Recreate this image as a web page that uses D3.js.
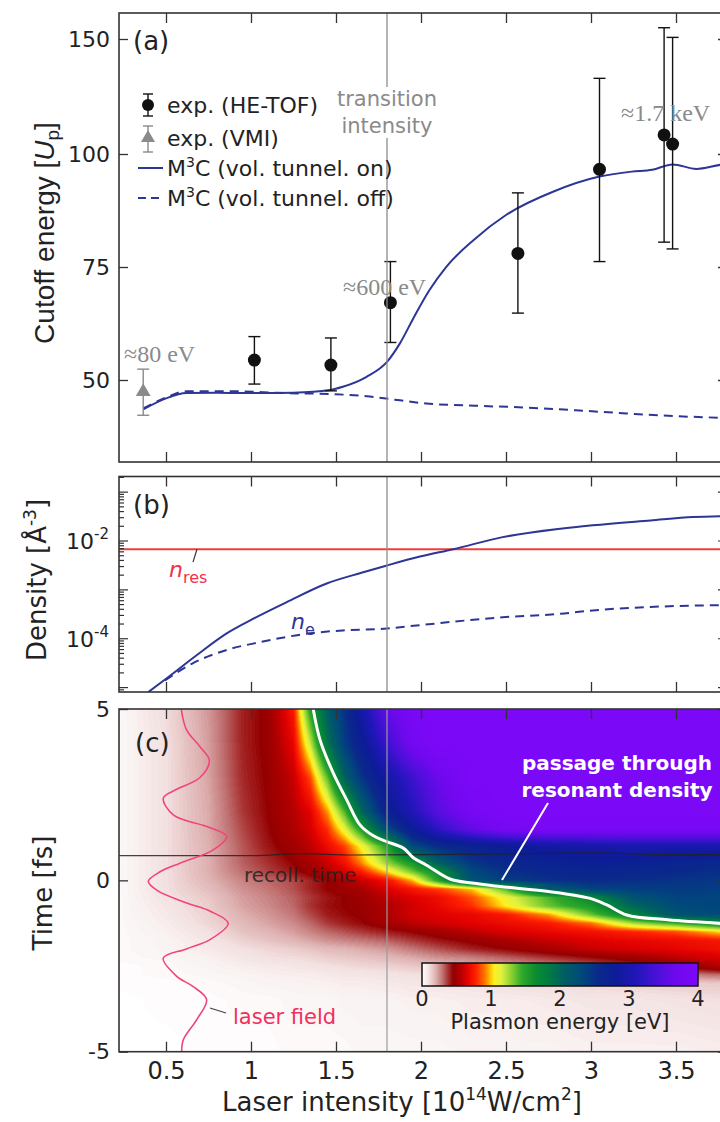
<!DOCTYPE html>
<html><head><meta charset="utf-8">
<script src="https://cdn.jsdelivr.net/npm/d3@7"></script>
<style>
body{margin:0;background:#fff;}
svg{display:block;font-family:"DejaVu Sans",sans-serif;}
</style>
</head><body>
<svg id="chart" width="720" height="1122"></svg>
<script>
// ---------------- DATA ----------------
const intensityTicks = [0.5, 1, 1.5, 2, 2.5, 3, 3.5];
const intensityTickLabels = ["0.5", "1", "1.5", "2", "2.5", "3", "3.5"];
const transitionIntensity = 1.8;

// panel (a): cutoff energy [Up]
const cutoffTicks = [50, 75, 100, 150];
const heI   = [1.02, 1.47, 1.82, 2.57, 3.05, 3.43, 3.48];
const heVal = [54.4, 53.3, 67.1, 78.0, 96.6, 108.3, 104.3];
const heLo  = [49.1, 47.6, 58.3, 64.8, 76.2, 80.5, 79.0];
const heHi  = [59.6, 59.3, 76.2, 91.4, 132.9, 154.9, 150.7];
const vmiI = [0.366], vmiVal = [47.4], vmiLo = [42.2], vmiHi = [52.4];
const m3cOnI   = [0.366, 0.504, 0.62, 0.8, 1.01, 1.25, 1.465, 1.54, 1.68, 1.80, 1.876, 1.96, 2.05, 2.15, 2.31, 2.50, 2.78, 3.05, 3.24, 3.36, 3.48, 3.62, 3.76, 3.81];
const m3cOnVal = [43.5, 46.0, 47.1, 47.2, 47.1, 47.2, 47.8, 48.5, 50.7, 54.0, 58.1, 64.0, 69.9, 75.1, 81.0, 86.5, 91.7, 95.0, 96.1, 96.5, 97.7, 96.7, 97.6, 97.8];
const m3cOffI   = [0.366, 0.504, 0.62, 0.89, 1.19, 1.465, 1.68, 1.876, 2.03, 2.32, 2.62, 2.91, 3.21, 3.50, 3.81];
const m3cOffVal = [43.7, 46.2, 47.5, 47.5, 47.1, 46.9, 46.4, 45.5, 44.8, 44.3, 43.9, 43.3, 42.6, 42.0, 41.6];

// panel (b): densities [A^-3]
const nRes = 6.8e-3;
const neOnI   = [0.396, 0.504, 0.68, 0.857, 1.014, 1.21, 1.445, 1.66, 1.80, 1.994, 2.19, 2.48, 2.82, 3.01, 3.35, 3.60, 3.81];
const neOnVal = [8.1e-6, 1.55e-5, 4.6e-5, 1.29e-4, 2.57e-4, 5.6e-4, 1.35e-3, 2.29e-3, 3.16e-3, 4.8e-3, 6.8e-3, 1.2e-2, 1.78e-2, 2.09e-2, 2.63e-2, 3.09e-2, 3.24e-2];
const neOffI   = [0.494, 0.659, 0.857, 1.053, 1.347, 1.54, 1.80, 1.994, 2.48, 2.82, 3.01, 3.35, 3.81];
const neOffVal = [1.41e-5, 3.16e-5, 5.9e-5, 8.5e-5, 1.29e-4, 1.48e-4, 1.62e-4, 1.9e-4, 2.75e-4, 3.24e-4, 3.8e-4, 4.47e-4, 4.9e-4];

// panel (c): plasmon energy map [eV]
const timeTicks = [-5, 0, 5];
const heatI = [0.22, 0.5, 0.75, 0.95, 1.1, 1.25, 1.35, 1.45, 1.55, 1.65, 1.8, 1.95, 2.1, 2.3, 2.5, 2.75, 3.0, 3.25, 3.5, 3.8];
const heatT = [5, 4, 3, 2, 1.5, 1, 0.5, 0.25, 0, -0.25, -0.5, -0.75, -1, -1.25, -1.5, -1.75, -2, -2.25, -2.5, -2.75, -3, -3.5, -5];
const heatE = [
 [0.02,0.11,0.24,0.40,0.47,0.75,1.52,2.1,2.5,2.95,3.6,3.95,4,4,4,4,4,4,4,4],
 [0.02,0.10,0.23,0.40,0.47,0.68,1.2,1.9,2.4,2.75,3.3,3.8,4,4,4,4,4,4,4,4],
 [0.02,0.10,0.22,0.39,0.46,0.60,0.85,1.37,2.05,2.47,2.93,3.3,3.67,4,4,4,4,4,4,4],
 [0.02,0.10,0.21,0.37,0.45,0.56,0.66,0.94,1.39,2.0,2.7,3.1,3.5,3.85,4,4,4,4,4,4],
 [0.02,0.10,0.21,0.35,0.44,0.54,0.63,0.80,1.12,1.53,2.3,2.8,3.2,3.6,3.85,3.9,3.9,3.9,3.9,3.9],
 [0.02,0.10,0.20,0.33,0.42,0.50,0.58,0.70,0.83,1.08,1.5,2.3,2.55,2.7,2.8,2.9,2.95,3.0,3.0,3.0],
 [0.02,0.10,0.20,0.32,0.38,0.45,0.52,0.60,0.72,0.92,1.27,1.56,2.05,2.45,2.6,2.7,2.75,2.72,2.65,2.6],
 [0.02,0.10,0.20,0.30,0.36,0.42,0.48,0.55,0.63,0.76,1.02,1.33,1.65,2.3,2.5,2.6,2.65,2.62,2.58,2.5],
 [0.02,0.10,0.19,0.27,0.31,0.35,0.40,0.45,0.52,0.60,0.72,0.98,1.5,2.2,2.4,2.5,2.55,2.52,2.48,2.45],
 [0.02,0.10,0.17,0.25,0.29,0.34,0.40,0.45,0.48,0.53,0.64,0.74,0.83,1.0,1.4,2.1,2.35,2.4,2.42,2.4],
 [0.02,0.09,0.15,0.23,0.27,0.32,0.37,0.42,0.45,0.48,0.58,0.65,0.70,0.85,1.1,1.4,1.7,2.2,2.35,2.35],
 [0.02,0.08,0.14,0.22,0.26,0.31,0.38,0.43,0.45,0.47,0.54,0.62,0.68,0.80,1.05,1.35,1.55,2.0,2.3,2.35],
 [0.02,0.07,0.13,0.20,0.24,0.29,0.35,0.41,0.44,0.46,0.54,0.62,0.65,0.68,0.75,0.95,1.35,1.75,2.2,2.3],
 [0.02,0.06,0.12,0.18,0.22,0.26,0.31,0.37,0.41,0.44,0.51,0.58,0.62,0.66,0.70,0.75,0.9,1.25,1.45,1.7],
 [0.02,0.05,0.10,0.16,0.19,0.23,0.27,0.31,0.34,0.37,0.41,0.45,0.50,0.58,0.64,0.68,0.72,0.78,0.85,1.05],
 [0.02,0.04,0.08,0.13,0.16,0.19,0.22,0.25,0.27,0.29,0.32,0.37,0.42,0.47,0.53,0.60,0.65,0.68,0.70,0.75],
 [0.02,0.04,0.07,0.10,0.12,0.14,0.16,0.18,0.19,0.21,0.24,0.29,0.34,0.40,0.45,0.52,0.60,0.64,0.67,0.72],
 [0.02,0.03,0.05,0.08,0.10,0.11,0.12,0.14,0.15,0.16,0.18,0.21,0.25,0.28,0.32,0.38,0.44,0.50,0.58,0.65],
 [0.01,0.02,0.04,0.06,0.07,0.08,0.09,0.10,0.11,0.12,0.13,0.15,0.17,0.20,0.23,0.27,0.32,0.38,0.45,0.58],
 [0.01,0.02,0.03,0.04,0.05,0.06,0.06,0.07,0.08,0.08,0.09,0.10,0.11,0.13,0.15,0.17,0.19,0.22,0.26,0.32],
 [0.01,0.01,0.02,0.03,0.04,0.04,0.05,0.05,0.06,0.06,0.07,0.08,0.08,0.09,0.10,0.11,0.12,0.13,0.14,0.15],
 [0.00,0.01,0.01,0.02,0.02,0.03,0.03,0.03,0.04,0.04,0.04,0.05,0.05,0.06,0.06,0.07,0.08,0.08,0.09,0.10],
 [0.00,0.00,0.01,0.01,0.01,0.02,0.02,0.02,0.02,0.03,0.03,0.03,0.03,0.04,0.04,0.04,0.05,0.05,0.05,0.06]
];
const cmapStops  = [0, 0.1, 0.2, 0.3, 0.38, 0.45, 0.55, 0.65, 0.78, 0.9, 0.98, 1.05, 1.15, 1.3, 1.45, 1.65, 1.85, 2.05, 2.3, 2.55, 2.8, 3.1, 3.4, 3.7, 4.0];
const cmapColors = ["#ffffff","#f3e0e0","#deb0b0","#c07070","#a83030","#940000","#b00000","#e00000","#ff2000","#ff7000","#ffb800","#fff020","#e0f040","#88d030","#2fa82a","#0c8c30","#007a46","#006060","#004a7a","#0a2a8a","#0c1c96","#2016b8","#4a10d8","#7008ee","#7c08f8"];
const colorbarTicks = [0, 1, 2, 3, 4];
// resonance passage (white contour) [intensity, time]
const resonanceI = [1.366, 1.406, 1.484, 1.563, 1.641, 1.72, 1.798, 1.896, 1.955, 2.03, 2.17, 2.30, 2.465, 2.76, 2.99, 3.09, 3.21, 3.45, 3.81];
const resonanceT = [5.0, 4.10, 3.13, 2.35, 1.62, 1.30, 1.13, 0.94, 0.66, 0.45, 0.04, -0.08, -0.18, -0.33, -0.52, -0.71, -1.01, -1.15, -1.27];
// recollision time
const recollI = [0.22, 1.0, 1.3, 1.6, 2.0, 2.5, 3.0, 3.5, 3.81];
const recollT = [0.72, 0.72, 0.78, 0.74, 0.75, 0.77, 0.80, 0.75, 0.75];
// laser field trace drawn on the intensity axis
const laserT = [5.0, 4.4, 3.9, 3.5, 3.0, 2.65, 2.4, 1.9, 1.57, 1.28, 0.89, 0.5, 0.25, -0.03, -0.3, -0.66, -0.9, -1.25, -1.73, -2.0, -2.27, -2.8, -3.1, -3.48, -4.07, -4.65, -5.0];
const laserI = [0.59, 0.62, 0.70, 0.755, 0.70, 0.56, 0.484, 0.545, 0.74, 0.857, 0.778, 0.582, 0.465, 0.396, 0.45, 0.622, 0.76, 0.866, 0.759, 0.62, 0.484, 0.563, 0.66, 0.739, 0.68, 0.602, 0.592];

// ---------------- LAYOUT ----------------
const svg = d3.select("#chart");
const X0 = 119, X1 = 727;
const AX = "#333";
const x = d3.scaleLinear().domain([0.5, 3.5]).range([166, 676]);
const pA = {top: 13, bottom: 462};
const pB = {top: 476.5, bottom: 692};
const pC = {top: 709, bottom: 1051.7};
const yA = d3.scaleLinear().domain(cutoffTicks).range([380, 267, 154, 39]);
const yB = d3.scaleLog().domain([Math.pow(10, -5.09), Math.pow(10, -0.68)]).range([pB.bottom, pB.top]);
const yC = d3.scaleLinear().domain([-5, 5]).range([pC.bottom, pC.top]);
const lineCol = "#2d3595";
const grayTxt = "#8a8a8a";

const defs = svg.append("defs");
function clip(id, p) {
  defs.append("clipPath").attr("id", id).append("rect")
    .attr("x", X0).attr("y", p.top).attr("width", X1 - X0).attr("height", p.bottom - p.top);
}
clip("clipA", pA); clip("clipB", pB); clip("clipC", pC);

function styleAxis(g) {
  g.select(".domain").remove();
  g.selectAll(".tick line").attr("stroke", AX).attr("stroke-width", 1.3);
  g.selectAll(".tick text").attr("fill", "#222").style("font-family", "DejaVu Sans").attr("font-size", 22);
}
function xTicks(p, labels) {
  const gb = svg.append("g").attr("transform", `translate(0,${p.bottom})`)
    .call(d3.axisBottom(x).tickValues(intensityTicks).tickSize(-10).tickPadding(10)
      .tickFormat((d, i) => labels ? intensityTickLabels[i] : ""));
  styleAxis(gb);
  gb.selectAll(".tick text").attr("font-size", 24);
  const gt = svg.append("g").attr("transform", `translate(0,${p.top})`)
    .call(d3.axisTop(x).tickValues(intensityTicks).tickSize(-10).tickFormat(""));
  styleAxis(gt);
}
function frame(p) {
  svg.append("rect").attr("x", X0).attr("y", p.top).attr("width", X1 - X0).attr("height", p.bottom - p.top)
    .attr("fill", "none").attr("stroke", AX).attr("stroke-width", 1.6);
}
function vline(p, col, w) {
  svg.append("line").attr("x1", x(transitionIntensity)).attr("x2", x(transitionIntensity))
    .attr("y1", p.top).attr("y2", p.bottom).attr("stroke", col).attr("stroke-width", w);
}

// ================= PANEL (a) =================
const gA = svg.append("g").attr("clip-path", "url(#clipA)");
vline(pA, "#8c8c8c", 1.3);
const lineA = d3.line().x(d => x(d[0])).y(d => yA(d[1])).curve(d3.curveMonotoneX);
gA.append("path").datum(d3.zip(m3cOffI, m3cOffVal)).attr("d", lineA)
  .attr("fill", "none").attr("stroke", lineCol).attr("stroke-width", 2).attr("stroke-dasharray", "9,6");
gA.append("path").datum(d3.zip(m3cOnI, m3cOnVal)).attr("d", lineA)
  .attr("fill", "none").attr("stroke", lineCol).attr("stroke-width", 2);

function errBars(g, I, lo, hi, col) {
  I.forEach((v, i) => {
    const cx = x(v);
    g.append("line").attr("x1", cx).attr("x2", cx).attr("y1", yA(lo[i])).attr("y2", yA(hi[i])).attr("stroke", col).attr("stroke-width", 1.4);
    [lo[i], hi[i]].forEach(e => g.append("line").attr("x1", cx - 6).attr("x2", cx + 6).attr("y1", yA(e)).attr("y2", yA(e)).attr("stroke", col).attr("stroke-width", 1.4));
  });
}
errBars(gA, heI, heLo, heHi, "#111");
errBars(gA, vmiI, vmiLo, vmiHi, "#8a8a8a");
gA.selectAll("circle.he").data(d3.zip(heI, heVal)).join("circle").attr("class", "he")
  .attr("cx", d => x(d[0])).attr("cy", d => yA(d[1])).attr("r", 6.5).attr("fill", "#111");
gA.selectAll("path.vmi").data(d3.zip(vmiI, vmiVal)).join("path").attr("class", "vmi")
  .attr("d", d3.symbol(d3.symbolTriangle, 95)).attr("transform", d => `translate(${x(d[0])},${yA(d[1])})`).attr("fill", "#8a8a8a");

// texts panel a
svg.append("text").attr("x", 133).attr("y", 50).attr("font-size", 26).attr("fill", "#222").text("(a)");
const tiG = svg.append("g");
const tiBg = tiG.append("rect").attr("fill", "#fff");
const ti1 = tiG.append("text").attr("x", x(transitionIntensity)).attr("y", 106).attr("text-anchor", "middle").attr("font-size", 21).attr("fill", grayTxt).text("transition");
const ti2 = tiG.append("text").attr("x", x(transitionIntensity)).attr("y", 133).attr("text-anchor", "middle").attr("font-size", 21).attr("fill", grayTxt).text("intensity");
{
  const b1 = ti1.node().getBBox(), b2 = ti2.node().getBBox();
  tiBg.attr("x", x(transitionIntensity) - 8).attr("width", 16).attr("y", b1.y).attr("height", b2.y + b2.height - b1.y);
}
const serif = "Liberation Serif, DejaVu Serif, serif";
svg.append("text").attr("x", 124).attr("y", 362).attr("font-size", 24).style("font-family", serif).attr("fill", grayTxt).text("≈80 eV");
svg.append("text").attr("x", 343).attr("y", 295).attr("font-size", 24).style("font-family", serif).attr("fill", grayTxt).text("≈600 eV");
svg.append("text").attr("x", 621).attr("y", 121).attr("font-size", 24).style("font-family", serif).attr("fill", grayTxt).text("≈1.7 keV");

// legend
const leg = svg.append("g").attr("font-size", 22).attr("fill", "#222");
const legX = 148, legTX = 167, legRows = [105, 138, 168, 198];
leg.append("line").attr("x1", legX).attr("x2", legX).attr("y1", legRows[0] - 11).attr("y2", legRows[0] + 11).attr("stroke", "#111").attr("stroke-width", 1.4);
[-11, 11].forEach(o => leg.append("line").attr("x1", legX - 5).attr("x2", legX + 5).attr("y1", legRows[0] + o).attr("y2", legRows[0] + o).attr("stroke", "#111").attr("stroke-width", 1.4));
leg.append("circle").attr("cx", legX).attr("cy", legRows[0]).attr("r", 6).attr("fill", "#111");
leg.append("line").attr("x1", legX).attr("x2", legX).attr("y1", legRows[1] - 12).attr("y2", legRows[1] + 14).attr("stroke", "#8a8a8a").attr("stroke-width", 1.4);
[-12, 14].forEach(o => leg.append("line").attr("x1", legX - 5).attr("x2", legX + 5).attr("y1", legRows[1] + o).attr("y2", legRows[1] + o).attr("stroke", "#8a8a8a").attr("stroke-width", 1.4));
leg.append("path").attr("d", d3.symbol(d3.symbolTriangle, 85)).attr("transform", `translate(${legX},${legRows[1]})`).attr("fill", "#8a8a8a");
leg.append("line").attr("x1", 138).attr("x2", 163).attr("y1", legRows[2]).attr("y2", legRows[2]).attr("stroke", lineCol).attr("stroke-width", 2);
leg.append("line").attr("x1", 138).attr("x2", 164).attr("y1", legRows[3]).attr("y2", legRows[3]).attr("stroke", lineCol).attr("stroke-width", 2).attr("stroke-dasharray", "8,5");
leg.append("text").attr("x", legTX).attr("y", legRows[0] + 8).text("exp. (HE-TOF)");
leg.append("text").attr("x", legTX).attr("y", legRows[1] + 8).text("exp. (VMI)");
function m3c(row, rest) {
  const t = leg.append("text").attr("x", legTX).attr("y", row + 8);
  t.append("tspan").text("M");
  t.append("tspan").attr("font-size", 14).attr("dy", -9).text("3");
  t.append("tspan").attr("dy", 9).text("C " + rest);
}
m3c(legRows[2], "(vol. tunnel. on)");
m3c(legRows[3], "(vol. tunnel. off)");

// axes panel a
xTicks(pA, false);
{
  const gl = svg.append("g").attr("transform", `translate(${X0},0)`)
    .call(d3.axisLeft(yA).tickValues(cutoffTicks).tickSize(-9).tickPadding(9).tickFormat(d3.format("d")));
  styleAxis(gl);
  const gr = svg.append("g").attr("transform", `translate(${X1},0)`)
    .call(d3.axisRight(yA).tickValues(cutoffTicks).tickSize(-9).tickFormat(""));
  styleAxis(gr);
}
frame(pA);
{
  const t = svg.append("text").attr("transform", `translate(54,233) rotate(-90)`).attr("text-anchor", "middle")
    .style("font-family", "Liberation Sans, Arial, sans-serif").attr("font-size", 28).attr("fill", "#222");
  t.append("tspan").text("Cutoff energy [");
  t.append("tspan").attr("font-style", "italic").text("U");
  t.append("tspan").attr("font-size", 19).attr("dy", 5).text("p");
  t.append("tspan").attr("dy", -5).text("]");
}

// ================= PANEL (b) =================
const gB = svg.append("g").attr("clip-path", "url(#clipB)");
vline(pB, "#8c8c8c", 1.3);
gB.append("line").attr("x1", X0).attr("x2", X1).attr("y1", yB(nRes)).attr("y2", yB(nRes)).attr("stroke", "#f23c3c").attr("stroke-width", 2);
const lineB = d3.line().x(d => x(d[0])).y(d => yB(d[1])).curve(d3.curveMonotoneX);
gB.append("path").datum(d3.zip(neOffI, neOffVal)).attr("d", lineB)
  .attr("fill", "none").attr("stroke", lineCol).attr("stroke-width", 2).attr("stroke-dasharray", "9,6");
gB.append("path").datum(d3.zip(neOnI, neOnVal)).attr("d", lineB)
  .attr("fill", "none").attr("stroke", lineCol).attr("stroke-width", 2);
svg.append("text").attr("x", 133).attr("y", 514).attr("font-size", 26).attr("fill", "#222").text("(b)");
svg.append("line").attr("x1", 197).attr("x2", 193).attr("y1", yB(nRes)).attr("y2", yB(nRes) + 13).attr("stroke", "#333").attr("stroke-width", 1.2);
{
  const t = svg.append("text").attr("x", 169).attr("y", 577).attr("font-size", 22).attr("fill", "#f0304a");
  t.append("tspan").attr("font-style", "italic").text("n");
  t.append("tspan").attr("font-size", 16).attr("dy", 6).text("res");
  const t2 = svg.append("text").attr("x", 291).attr("y", 629).attr("font-size", 22).attr("fill", lineCol);
  t2.append("tspan").attr("font-style", "italic").text("n");
  t2.append("tspan").attr("font-size", 16).attr("dy", 6).text("e");
}
xTicks(pB, false);
{
  const [d0, d1] = yB.domain();
  const minor = [];
  for (let e = -6; e <= 0; e++) for (let k = 1; k <= 9; k++) {
    const v = k * Math.pow(10, e);
    if (v >= d0 && v <= d1) minor.push(v);
  }
  const isMajor = v => Math.abs(Math.log10(v) - Math.round(Math.log10(v))) < 1e-6;
  [[X0, 1], [X1, -1]].forEach(([ax, s]) => {
    svg.append("g").selectAll("line").data(minor).join("line")
      .attr("x1", ax).attr("x2", d => ax + s * (isMajor(d) ? 9 : 5))
      .attr("y1", d => yB(d)).attr("y2", d => yB(d)).attr("stroke", AX).attr("stroke-width", 1.2);
  });
  [-2, -4].forEach(e => {
    const t = svg.append("text").attr("x", 109).attr("y", yB(Math.pow(10, e)) + 8).attr("text-anchor", "end").attr("font-size", 22).attr("fill", "#222");
    t.append("tspan").text("10");
    t.append("tspan").attr("font-size", 15).attr("dy", -10).text(String(e));
  });
}
frame(pB);
{
  const t = svg.append("text").attr("transform", `translate(46,580) rotate(-90)`).attr("text-anchor", "middle").attr("font-size", 26).attr("fill", "#222");
  t.append("tspan").text("Density [Å");
  t.append("tspan").attr("font-size", 17).attr("dy", -10).text("-3");
  t.append("tspan").attr("dy", 10).text("]");
}

// ================= PANEL (c) =================
const gC = svg.append("g").attr("clip-path", "url(#clipC)");
{
  const tAsc = heatT.slice().reverse();
  const rows = heatE.slice().reverse();
  const W = X1 - X0, H = Math.round(pC.bottom - pC.top);
  const cv = document.createElement("canvas"); cv.width = W; cv.height = H;
  const ctx = cv.getContext("2d"); const img = ctx.createImageData(W, H);
  const cmap = d3.scaleLinear().domain(cmapStops).range(cmapColors).interpolate(d3.interpolateRgb).clamp(true);
  const lut = d3.range(0, 401).map(k => d3.rgb(cmap(k / 100)));
  function locate(arr, v) {
    if (v <= arr[0]) return [0, 0];
    if (v >= arr[arr.length - 1]) return [arr.length - 2, 1];
    const i = d3.bisectRight(arr, v) - 1;
    return [i, (v - arr[i]) / (arr[i + 1] - arr[i])];
  }
  for (let py = 0; py < H; py++) {
    const t = yC.invert(pC.top + py + 0.5);
    const [j, ft] = locate(tAsc, t);
    for (let px = 0; px < W; px++) {
      const I = x.invert(X0 + px + 0.5);
      const [i, fi] = locate(heatI, I);
      const a = rows[j][i] * (1 - fi) + rows[j][i + 1] * fi;
      const b = rows[j + 1][i] * (1 - fi) + rows[j + 1][i + 1] * fi;
      const e = a * (1 - ft) + b * ft;
      const c = lut[Math.round(Math.max(0, Math.min(4, e)) * 100)];
      const o = (py * W + px) * 4;
      img.data[o] = c.r; img.data[o + 1] = c.g; img.data[o + 2] = c.b; img.data[o + 3] = 255;
    }
  }
  ctx.putImageData(img, 0, 0);
  gC.append("image").attr("x", X0).attr("y", pC.top).attr("width", W).attr("height", H)
    .attr("preserveAspectRatio", "none").attr("href", cv.toDataURL());
}
vline(pC, "#9a9a9a", 1.2);
gC.append("path").datum(d3.zip(recollI, recollT)).attr("d", d3.line().x(d => x(d[0])).y(d => yC(d[1])).curve(d3.curveMonotoneX))
  .attr("fill", "none").attr("stroke", "#222").attr("stroke-width", 1.2).attr("opacity", 0.85);
gC.append("path").datum(d3.zip(resonanceI, resonanceT)).attr("d", d3.line().x(d => x(d[0])).y(d => yC(d[1])).curve(d3.curveCatmullRom))
  .attr("fill", "none").attr("stroke", "#fff").attr("stroke-width", 3);
gC.append("path").datum(d3.zip(laserI, laserT)).attr("d", d3.line().x(d => x(d[0])).y(d => yC(d[1])).curve(d3.curveCatmullRom))
  .attr("fill", "none").attr("stroke", "#f0457a").attr("stroke-width", 1.6);

svg.append("text").attr("x", 135).attr("y", 752).attr("font-size", 26).attr("fill", "#222").text("(c)");
svg.append("text").attr("x", 244).attr("y", 882).attr("font-size", 20).attr("fill", "#222").attr("opacity", 0.85).text("recoll. time");
svg.append("line").attr("x1", 210).attr("x2", 226).attr("y1", 1008).attr("y2", 1013).attr("stroke", "#444").attr("stroke-width", 1.3);
svg.append("text").attr("x", 233).attr("y", 1024).attr("font-size", 21).attr("fill", "#f0305e").text("laser field");
svg.append("line").attr("x1", 548).attr("x2", 502).attr("y1", 803).attr("y2", 880).attr("stroke", "#fff").attr("stroke-width", 2);
svg.append("text").attr("x", 617).attr("y", 770).attr("text-anchor", "middle").attr("font-size", 20).attr("font-weight", "bold").attr("fill", "#fff").text("passage through");
svg.append("text").attr("x", 617).attr("y", 797).attr("text-anchor", "middle").attr("font-size", 20).attr("font-weight", "bold").attr("fill", "#fff").text("resonant density");

// colorbar
{
  const cb = d3.scaleLinear().domain([0, 4]).range([422, 698]);
  const grad = defs.append("linearGradient").attr("id", "cbgrad").attr("x1", "0%").attr("x2", "100%");
  cmapStops.forEach((s, i) => grad.append("stop").attr("offset", (s / 4 * 100) + "%").attr("stop-color", cmapColors[i]));
  svg.append("rect").attr("x", cb(0)).attr("y", 963).attr("width", cb(4) - cb(0)).attr("height", 23)
    .attr("fill", "url(#cbgrad)").attr("stroke", "#111").attr("stroke-width", 1.5);
  svg.append("g").selectAll("text").data(colorbarTicks).join("text")
    .attr("x", d => cb(d)).attr("y", 1006).attr("text-anchor", "middle").attr("font-size", 21).attr("fill", "#222").text(d => d);
  svg.append("text").attr("x", cb(2)).attr("y", 1029).attr("text-anchor", "middle").attr("font-size", 21).attr("fill", "#222").text("Plasmon energy [eV]");
}

xTicks(pC, true);
{
  const gl = svg.append("g").attr("transform", `translate(${X0},0)`)
    .call(d3.axisLeft(yC).tickValues(timeTicks).tickSize(-9).tickPadding(9).tickFormat(d => String(d)));
  styleAxis(gl);
  const gr = svg.append("g").attr("transform", `translate(${X1},0)`)
    .call(d3.axisRight(yC).tickValues(timeTicks).tickSize(-9).tickFormat(""));
  styleAxis(gr);
}
frame(pC);
svg.append("text").attr("transform", `translate(52,893) rotate(-90)`).attr("text-anchor", "middle").attr("font-size", 26).attr("fill", "#222").text("Time [fs]");
{
  const t = svg.append("text").attr("x", 402).attr("y", 1111).attr("text-anchor", "middle").attr("font-size", 26).attr("fill", "#222");
  t.append("tspan").text("Laser intensity [10");
  t.append("tspan").attr("font-size", 17).attr("dy", -11).text("14");
  t.append("tspan").attr("dy", 11).text("W/cm");
  t.append("tspan").attr("font-size", 17).attr("dy", -11).text("2");
  t.append("tspan").attr("dy", 11).text("]");
}
</script>
</body></html>
